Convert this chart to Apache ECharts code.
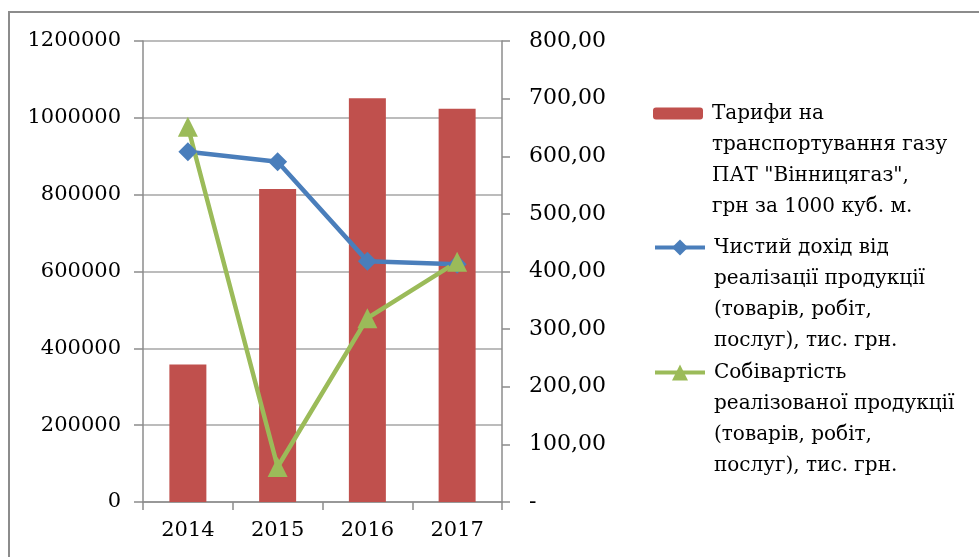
<!DOCTYPE html>
<html>
<head>
<meta charset="utf-8">
<script src="https://cdn.jsdelivr.net/npm/echarts@6/dist/echarts.min.js"></script>
<style>
html,body{margin:0;padding:0;background:#fff;}
#main{width:979px;height:557px;}
</style>
</head>
<body>
<div id="main"></div>
<script>
const years = ['2014', '2015', '2016', '2017'];
const tariff = [238.6, 543.0, 700.5, 682.4];
const income = [911700, 885600, 627000, 619100];
const cost = [976800, 91200, 478500, 625100];
const leftTicks = { min: 0, max: 1200000, interval: 200000 };
const rightTicks = { min: 0, max: 800, interval: 100 };

const nameTariff = 'Тарифи на\nтранспортування газу\nПАТ "Вінницягаз",\nгрн за 1000 куб. м.';
const nameIncome = 'Чистий дохід від\nреалізації продукції\n(товарів, робіт,\nпослуг), тис. грн.';
const nameCost = 'Собівартість\nреалізованої продукції\n(товарів, робіт,\nпослуг), тис. грн.';

const FONT = 'DejaVu Serif';
const chart = echarts.init(document.getElementById('main'), null, { renderer: 'canvas' });

function mkLegend(name, top, ih) {
  return {
    data: [name],
    orient: 'vertical',
    left: 653,
    top: top,
    padding: 0,
    itemWidth: 50,
    itemHeight: ih,
    selectedMode: false,
    lineStyle: { width: 4 },
    formatter: function (n) { return '\n\n\n' + n; },
    textStyle: { fontFamily: FONT, fontSize: 20, color: '#000', lineHeight: 31, padding: [0, 0, 0, 4] }
  };
}

chart.setOption({
  animation: false,
  backgroundColor: '#fff',
  graphic: [{
    type: 'rect',
    shape: { x: 9, y: 12, width: 1100, height: 700 },
    style: { fill: null, stroke: '#8c8c8c', lineWidth: 2 },
    silent: true, z: 100
  }],
  legend: [
    mkLegend(nameTariff, 5, 12),
    mkLegend(nameIncome, 139, 20),
    mkLegend(nameCost, 264, 20)
  ],
  grid: { left: 143, right: 477, top: 41, bottom: 55, containLabel: false },
  xAxis: {
    type: 'category',
    data: years,
    boundaryGap: true,
    axisLine: { lineStyle: { color: '#8c8c8c', width: 1.5 } },
    axisTick: { show: true, length: 8, lineStyle: { color: '#8c8c8c', width: 1.5 } },
    axisLabel: { fontFamily: FONT, fontSize: 21, color: '#000', margin: 18 }
  },
  yAxis: [{
    type: 'value',
    min: leftTicks.min, max: leftTicks.max, interval: leftTicks.interval,
    position: 'left',
    axisLine: { show: true, lineStyle: { color: '#8c8c8c', width: 1.5 } },
    axisTick: { show: true, length: 9, lineStyle: { color: '#8c8c8c', width: 1.5 } },
    splitLine: { show: true, lineStyle: { color: '#a6a6a6', width: 1.5 } },
    axisLabel: {
      fontFamily: FONT, fontSize: 21, color: '#000', margin: 22,
      formatter: function (v) { return String(v); }
    }
  }, {
    type: 'value',
    min: rightTicks.min, max: rightTicks.max, interval: rightTicks.interval,
    position: 'right',
    axisLine: { show: true, lineStyle: { color: '#8c8c8c', width: 1.5 } },
    axisTick: { show: true, length: 8, lineStyle: { color: '#8c8c8c', width: 1.5 } },
    splitLine: { show: false },
    axisLabel: {
      fontFamily: FONT, fontSize: 22, color: '#000', margin: 27,
      formatter: function (v) { return v === 0 ? '-' : v.toFixed(2).replace('.', ','); }
    }
  }],
  series: [{
    name: nameTariff,
    type: 'bar',
    yAxisIndex: 1,
    data: tariff,
    barWidth: 37,
    itemStyle: { color: '#C0504D' }
  }, {
    name: nameIncome,
    type: 'line',
    yAxisIndex: 0,
    data: income,
    symbol: 'diamond',
    symbolSize: 19,
    lineStyle: { color: '#4A7EBB', width: 4.5 },
    itemStyle: { color: '#4A7EBB' }
  }, {
    name: nameCost,
    type: 'line',
    yAxisIndex: 0,
    data: cost,
    symbol: 'triangle',
    symbolSize: 20,
    lineStyle: { color: '#9BBB59', width: 4.5 },
    itemStyle: { color: '#9BBB59' }
  }]
});
</script>
</body>
</html>
